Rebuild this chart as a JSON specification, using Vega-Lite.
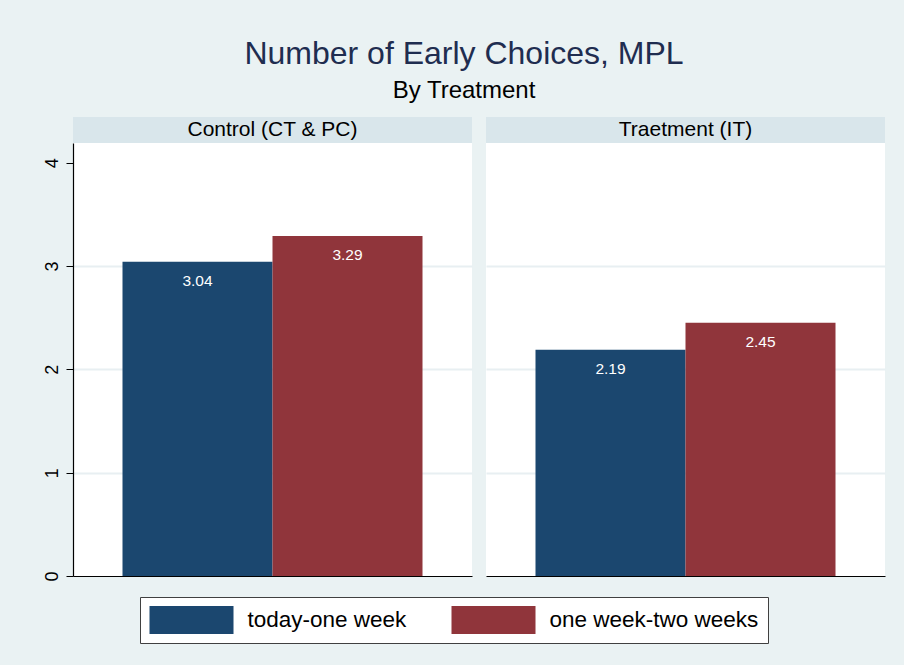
{
  "$schema": "https://vega.github.io/schema/vega-lite/v6.json",
  "background": "#EAF2F3",
  "padding": {"left": 42, "top": 38, "right": 20, "bottom": 25},
  "title": {
    "text": "Number of Early Choices, MPL",
    "subtitle": "By Treatment",
    "fontSize": 32,
    "font": "Liberation Sans",
    "fontWeight": "normal",
    "color": "#1F2D50",
    "subtitleFontSize": 24,
    "subtitleFont": "Liberation Sans",
    "subtitleColor": "#000000",
    "subtitlePadding": 8,
    "anchor": "middle",
    "frame": "bounds",
    "offset": 13
  },
  "data": {
    "values": [
      {"panel": "Control (CT & PC)", "series": "today-one week", "value": 3.04},
      {"panel": "Control (CT & PC)", "series": "one week-two weeks", "value": 3.29},
      {"panel": "Traetment (IT)", "series": "today-one week", "value": 2.19},
      {"panel": "Traetment (IT)", "series": "one week-two weeks", "value": 2.45}
    ]
  },
  "hconcat": [
    {
      "vconcat": [
        {
          "width": 399,
          "height": 26,
          "view": {"fill": "#D9E6EB", "stroke": null},
          "transform": [{"filter": "datum.panel == 'Control (CT & PC)'"}, {"aggregate": [], "groupby": ["panel"]}],
          "mark": {"type": "text", "fontSize": 21, "font": "Liberation Sans", "color": "#000000"},
          "encoding": {"text": {"field": "panel"}}
        },
        {
          "width": 399,
          "height": 433,
          "view": {"fill": "#FFFFFF", "stroke": null},
          "transform": [{"filter": "datum.panel == 'Control (CT & PC)'"}],
          "encoding": {
            "x": {
              "field": "series", "type": "nominal", "sort": ["today-one week", "one week-two weeks"],
              "scale": {"paddingInner": 0, "paddingOuter": 0.33},
              "axis": {"title": null, "labels": false, "ticks": false, "domain": true, "domainColor": "#000000", "domainWidth": 1.2}
            },
            "y": {
              "field": "value", "type": "quantitative",
              "scale": {"domain": [0, 4.19], "nice": false, "zero": true},
              "axis": {
                "title": null, "values": [0, 1, 2, 3, 4], "labelAngle": -90, "labelAlign": "center", "labelBaseline": "alphabetic",
                "labelFontSize": 18, "labelFont": "Liberation Sans", "labelColor": "#000000", "labelPadding": 9,
                "tickSize": 7, "tickColor": "#000000", "domainColor": "#000000", "domainWidth": 1.2,
                "grid": true, "gridColor": {"condition": {"test": "datum.value == 0 || datum.value == 4", "value": "transparent"}, "value": "#E8EFF2"}, "gridWidth": 2
              }
            }
          },
          "layer": [
            {
              "mark": {"type": "bar"},
              "encoding": {
                "color": {
                  "field": "series", "type": "nominal",
                  "scale": {"domain": ["today-one week", "one week-two weeks"], "range": ["#1B476F", "#90353B"]},
                  "legend": {"title": null}
                }
              }
            },
            {
              "mark": {"type": "text", "color": "#FFFFFF", "fontSize": 15.5, "font": "Liberation Sans", "baseline": "middle", "dy": 19},
              "encoding": {"text": {"field": "value", "format": ".2f"}}
            }
          ]
        }
      ],
      "spacing": 0
    },
    {
      "vconcat": [
        {
          "width": 399,
          "height": 26,
          "view": {"fill": "#D9E6EB", "stroke": null},
          "transform": [{"filter": "datum.panel == 'Traetment (IT)'"}, {"aggregate": [], "groupby": ["panel"]}],
          "mark": {"type": "text", "fontSize": 21, "font": "Liberation Sans", "color": "#000000"},
          "encoding": {"text": {"field": "panel"}}
        },
        {
          "width": 399,
          "height": 433,
          "view": {"fill": "#FFFFFF", "stroke": null},
          "transform": [{"filter": "datum.panel == 'Traetment (IT)'"}],
          "encoding": {
            "x": {
              "field": "series", "type": "nominal", "sort": ["today-one week", "one week-two weeks"],
              "scale": {"paddingInner": 0, "paddingOuter": 0.33},
              "axis": {"title": null, "labels": false, "ticks": false, "domain": true, "domainColor": "#000000", "domainWidth": 1.2}
            },
            "y": {
              "field": "value", "type": "quantitative",
              "scale": {"domain": [0, 4.19], "nice": false, "zero": true},
              "axis": {
                "title": null, "values": [0, 1, 2, 3, 4], "labels": false, "ticks": false, "domain": false,
                "grid": true, "gridColor": {"condition": {"test": "datum.value == 0 || datum.value == 4", "value": "transparent"}, "value": "#E8EFF2"}, "gridWidth": 2
              }
            }
          },
          "layer": [
            {
              "mark": {"type": "bar"},
              "encoding": {
                "color": {
                  "field": "series", "type": "nominal",
                  "scale": {"domain": ["today-one week", "one week-two weeks"], "range": ["#1B476F", "#90353B"]},
                  "legend": {"title": null}
                }
              }
            },
            {
              "mark": {"type": "text", "color": "#FFFFFF", "fontSize": 15.5, "font": "Liberation Sans", "baseline": "middle", "dy": 19},
              "encoding": {"text": {"field": "value", "format": ".2f"}}
            }
          ]
        }
      ],
      "spacing": 0
    }
  ],
  "spacing": 14,
  "config": {
    "legend": {
      "orient": "none",
      "legendX": 67,
      "legendY": 480,
      "direction": "horizontal",
      "fillColor": "#FFFFFF",
      "strokeColor": "#404040",
      "padding": 9,
      "symbolType": "M-3,-1H3V1H-3Z",
      "symbolSize": 784,
      "symbolOffset": 28.5,
      "symbolStrokeWidth": 0,
      "symbolOpacity": 1,
      "labelFontSize": 22.5,
      "labelFont": "Liberation Sans",
      "labelColor": "#000000",
      "labelOffset": 42,
      "columnPadding": 44,
      "labelLimit": 400
    }
  }
}
